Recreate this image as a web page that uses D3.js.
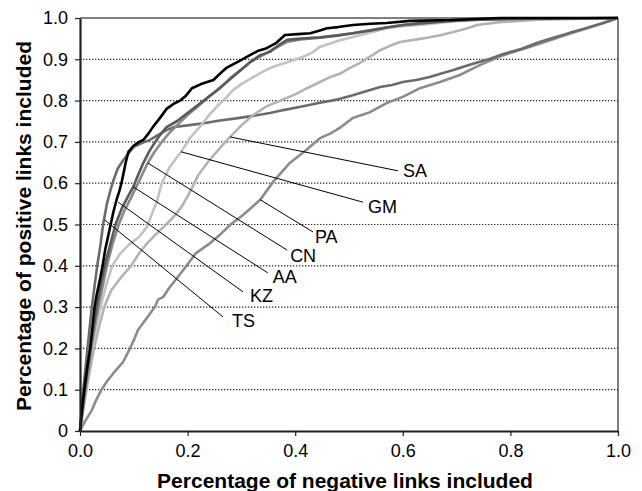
<!DOCTYPE html>
<html><head><meta charset="utf-8">
<script src="https://cdn.jsdelivr.net/npm/d3@7"></script>
<style>
body{margin:0;background:#fff}
svg{display:block}
text{font-family:"Liberation Sans",Arial,sans-serif;fill:#000}
</style>
</head><body>
<svg id="chart" width="642" height="491"></svg>
<script>
// ---------- data ----------
const xTickValues = [0, 0.2, 0.4, 0.6, 0.8, 1.0];
const xTickLabels = ["0.0", "0.2", "0.4", "0.6", "0.8", "1.0"];
const yTickValues = [0, 0.1, 0.2, 0.3, 0.4, 0.5, 0.6, 0.7, 0.8, 0.9, 1.0];
const yTickLabels = ["0", "0.1", "0.2", "0.3", "0.4", "0.5", "0.6", "0.7", "0.8", "0.9", "1.0"];
const xTitle = "Percentage of negative links included";
const yTitle = "Percentage of positive links included";

const seriesNames = ["PA", "TS", "SA", "GM", "CN", "AA", "KZ"];

const PA = [[0,0],[0.01,0.025],[0.022,0.05],[0.03,0.075],[0.04,0.1],[0.05,0.12],[0.062,0.14],[0.08,0.167],[0.093,0.2],[0.1,0.22],[0.108,0.245],[0.125,0.275],[0.139,0.3],[0.145,0.318],[0.155,0.325],[0.165,0.345],[0.18,0.37],[0.198,0.4],[0.215,0.43],[0.242,0.455],[0.26,0.475],[0.28,0.5],[0.3,0.52],[0.318,0.54],[0.335,0.56],[0.36,0.605],[0.39,0.649],[0.42,0.68],[0.446,0.709],[0.465,0.72],[0.483,0.734],[0.507,0.758],[0.539,0.772],[0.57,0.794],[0.6,0.809],[0.632,0.83],[0.669,0.845],[0.706,0.862],[0.743,0.886],[0.787,0.91],[0.85,0.936],[0.91,0.962],[0.972,0.987],[1,1]];

const TS = [[0,0],[0.003,0.05],[0.006,0.1],[0.01,0.15],[0.014,0.2],[0.018,0.25],[0.022,0.3],[0.027,0.35],[0.032,0.4],[0.038,0.45],[0.043,0.5],[0.05,0.55],[0.057,0.585],[0.063,0.61],[0.07,0.635],[0.08,0.655],[0.09,0.672],[0.1,0.688],[0.115,0.697],[0.13,0.705],[0.143,0.715],[0.16,0.728],[0.175,0.736],[0.2,0.74],[0.23,0.745],[0.26,0.752],[0.29,0.757],[0.322,0.763],[0.353,0.77],[0.378,0.777],[0.41,0.785],[0.446,0.795],[0.48,0.803],[0.507,0.813],[0.53,0.822],[0.558,0.833],[0.58,0.838],[0.6,0.845],[0.625,0.85],[0.65,0.857],[0.67,0.865],[0.694,0.874],[0.72,0.885],[0.74,0.893],[0.76,0.9],[0.787,0.913],[0.82,0.925],[0.85,0.94],[0.88,0.952],[0.91,0.964],[0.94,0.975],[0.972,0.988],[1,1]];

const SA = [[0,0],[0.006,0.05],[0.012,0.1],[0.019,0.15],[0.026,0.2],[0.035,0.25],[0.045,0.3],[0.058,0.34],[0.075,0.37],[0.095,0.4],[0.11,0.43],[0.125,0.455],[0.14,0.475],[0.16,0.5],[0.175,0.52],[0.19,0.545],[0.205,0.58],[0.22,0.62],[0.24,0.655],[0.26,0.685],[0.279,0.712],[0.3,0.74],[0.322,0.765],[0.345,0.785],[0.372,0.8],[0.4,0.815],[0.422,0.83],[0.446,0.845],[0.465,0.857],[0.483,0.865],[0.5,0.878],[0.52,0.891],[0.54,0.907],[0.558,0.922],[0.575,0.932],[0.595,0.942],[0.62,0.947],[0.645,0.952],[0.67,0.958],[0.694,0.966],[0.72,0.975],[0.738,0.983],[0.78,0.99],[0.85,0.996],[1,1]];

const GM = [[0,0],[0.005,0.05],[0.01,0.1],[0.016,0.15],[0.022,0.2],[0.03,0.25],[0.038,0.3],[0.048,0.35],[0.06,0.4],[0.075,0.43],[0.09,0.45],[0.11,0.47],[0.124,0.494],[0.135,0.53],[0.143,0.555],[0.152,0.6],[0.167,0.64],[0.188,0.676],[0.205,0.71],[0.223,0.737],[0.24,0.765],[0.254,0.785],[0.27,0.805],[0.285,0.826],[0.3,0.84],[0.322,0.857],[0.34,0.87],[0.359,0.882],[0.385,0.893],[0.409,0.903],[0.43,0.915],[0.446,0.93],[0.48,0.945],[0.507,0.954],[0.54,0.965],[0.57,0.975],[0.6,0.98],[0.632,0.983],[0.68,0.99],[0.725,0.995],[0.8,0.998],[1,1]];

const CN = [[0,0],[0.005,0.05],[0.01,0.1],[0.016,0.15],[0.021,0.2],[0.027,0.25],[0.034,0.3],[0.042,0.35],[0.05,0.4],[0.06,0.45],[0.072,0.5],[0.083,0.535],[0.095,0.565],[0.108,0.6],[0.117,0.625],[0.126,0.649],[0.138,0.675],[0.152,0.7],[0.165,0.72],[0.18,0.74],[0.2,0.765],[0.22,0.787],[0.24,0.81],[0.26,0.83],[0.28,0.855],[0.3,0.875],[0.316,0.893],[0.34,0.91],[0.36,0.925],[0.385,0.942],[0.41,0.948],[0.446,0.952],[0.48,0.958],[0.507,0.963],[0.54,0.97],[0.57,0.977],[0.6,0.983],[0.632,0.987],[0.68,0.992],[0.725,0.995],[0.8,0.998],[1,1]];

const AA = [[0,0],[0.004,0.05],[0.009,0.1],[0.014,0.15],[0.019,0.2],[0.025,0.25],[0.031,0.3],[0.038,0.35],[0.046,0.4],[0.056,0.45],[0.066,0.5],[0.078,0.54],[0.09,0.57],[0.099,0.591],[0.108,0.62],[0.118,0.65],[0.13,0.68],[0.145,0.71],[0.16,0.735],[0.18,0.75],[0.195,0.765],[0.21,0.78],[0.23,0.8],[0.25,0.82],[0.273,0.845],[0.295,0.87],[0.316,0.893],[0.335,0.91],[0.353,0.918],[0.37,0.935],[0.385,0.947],[0.41,0.95],[0.446,0.953],[0.48,0.958],[0.507,0.963],[0.54,0.97],[0.57,0.977],[0.6,0.983],[0.632,0.987],[0.68,0.992],[0.725,0.995],[0.8,0.998],[1,1]];

const KZ = [[0,0],[0.003,0.04],[0.006,0.08],[0.01,0.12],[0.014,0.16],[0.019,0.2],[0.023,0.25],[0.027,0.3],[0.031,0.33],[0.036,0.36],[0.042,0.4],[0.047,0.44],[0.052,0.47],[0.057,0.5],[0.062,0.53],[0.068,0.56],[0.073,0.58],[0.077,0.6],[0.081,0.625],[0.085,0.65],[0.09,0.676],[0.099,0.69],[0.11,0.7],[0.118,0.705],[0.127,0.72],[0.136,0.737],[0.148,0.757],[0.161,0.78],[0.175,0.793],[0.186,0.8],[0.197,0.812],[0.208,0.83],[0.225,0.84],[0.248,0.85],[0.26,0.865],[0.273,0.88],[0.295,0.895],[0.316,0.91],[0.33,0.92],[0.347,0.927],[0.365,0.94],[0.381,0.959],[0.405,0.961],[0.428,0.963],[0.446,0.97],[0.459,0.975],[0.48,0.978],[0.507,0.983],[0.54,0.986],[0.57,0.988],[0.613,0.993],[0.69,0.995],[0.78,1.0],[1,1]];

const seriesData = {PA, TS, SA, GM, CN, AA, KZ};
const seriesColors = {PA:"#8c8c8c", TS:"#6b6b6b", SA:"#b3b3b3", GM:"#c2c2c2", CN:"#8a8a8a", AA:"#5a5a5a", KZ:"#000000"};

// labels: name + point on its curve (data coords)
const labelNames   = ["SA", "GM", "PA", "CN", "AA", "KZ", "TS"];
const labelAnchorX = [0.279, 0.188, 0.335, 0.126, 0.099, 0.071, 0.046];
const labelAnchorY = [0.712, 0.676, 0.560, 0.649, 0.591, 0.554, 0.511];
// leader end (data coords) and text offsets (px) – layout
const labelEndX = [0.591, 0.526, 0.433, 0.385, 0.349, 0.303, 0.266];
const labelEndY = [0.630, 0.554, 0.482, 0.438, 0.383, 0.337, 0.276];
const labelDx = [5, 5, 2, 3, 5, 7, 9];
const labelDy = [6, 11, 11, 12, 10, 10, 10];

// ---------- chart ----------
const W = 642, H = 491;
const m = {left: 80, right: 24, top: 18, bottom: 60};
const svg = d3.select("#chart");
const x = d3.scaleLinear().domain([0, 1]).range([m.left, W - m.right]);
const y = d3.scaleLinear().domain([0, 1]).range([H - m.bottom, m.top]);

// gridlines
svg.append("g").selectAll("line")
  .data(yTickValues.filter(v => v > 0 && v < 1))
  .join("line")
  .attr("x1", x(0)).attr("x2", x(1))
  .attr("y1", d => y(d)).attr("y2", d => y(d))
  .attr("stroke", "#222").attr("stroke-width", 1.2)
  .attr("stroke-dasharray", "1.3,1.7");

// frame top & right
svg.append("line").attr("x1", x(0)).attr("x2", x(1)).attr("y1", y(1)).attr("y2", y(1))
  .attr("stroke", "#000").attr("stroke-width", 1);
svg.append("line").attr("x1", x(1)).attr("x2", x(1)).attr("y1", y(1)).attr("y2", y(0))
  .attr("stroke", "#000").attr("stroke-width", 1);

// curves
const line = d3.line().x(d => x(d[0])).y(d => y(d[1]));
seriesNames.forEach(n => {
  svg.append("path").datum(seriesData[n])
    .attr("fill", "none")
    .attr("stroke", seriesColors[n])
    .attr("stroke-width", n === "KZ" ? 2.6 : 2.6)
    .attr("stroke-linejoin", "round")
    .attr("d", line);
});

// axes
const xAxis = svg.append("g").attr("transform", `translate(0,${y(0)})`)
  .call(d3.axisBottom(x).tickValues(xTickValues)
    .tickFormat((d, i) => xTickLabels[i]).tickSize(5).tickSizeOuter(0).tickPadding(8));
const yAxis = svg.append("g").attr("transform", `translate(${x(0)},0)`)
  .call(d3.axisLeft(y).tickValues(yTickValues)
    .tickFormat((d, i) => yTickLabels[i]).tickSize(5).tickSizeOuter(0).tickPadding(7));
[xAxis, yAxis].forEach(g => {
  g.attr("font-family", null).attr("font-size", null);
  g.select(".domain").attr("stroke", "#222").attr("stroke-width", 2.2);
  g.selectAll(".tick line").attr("stroke", "#222").attr("stroke-width", 1.2);
  g.selectAll(".tick text").style("font-size", "18px").attr("fill", "#000");
});

// leader lines and labels
labelNames.forEach((n, i) => {
  const x1 = x(labelAnchorX[i]), y1 = y(labelAnchorY[i]);
  const x2 = x(labelEndX[i]), y2 = y(labelEndY[i]);
  svg.append("line").attr("x1", x1).attr("y1", y1).attr("x2", x2).attr("y2", y2)
    .attr("stroke", "#000").attr("stroke-width", 1);
  svg.append("text").attr("x", x2 + labelDx[i]).attr("y", y2 + labelDy[i])
    .style("font-size", "18px").text(n);
});

// titles
svg.append("text").attr("x", 345).attr("y", 488)
  .attr("text-anchor", "middle").style("font-size", "21px").style("font-weight", "bold")
  .text(xTitle);
svg.append("text").attr("transform", "translate(30.5,226) rotate(-90)")
  .attr("text-anchor", "middle").style("font-size", "21px").style("font-weight", "bold")
  .text(yTitle);
</script>
</body></html>
